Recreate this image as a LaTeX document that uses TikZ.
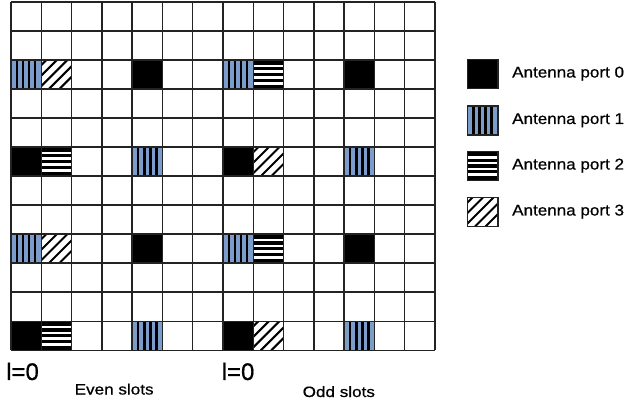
\documentclass[tikz,border=0pt]{standalone}
\usepackage{fontspec}
\usepackage{graphicx}
\setmainfont{Liberation Sans}[FakeBold=0.6]
\newfontfamily\heavyfont{Liberation Sans}[FakeBold=1.2]
\definecolor{portblue}{RGB}{124,156,204}
\definecolor{gridgrey}{RGB}{35,35,35}
\def\cw{30.2857}
\def\ch{29.025}
\tikzset{
  gridline/.style={draw=gridgrey, line width=1.5pt},
  legendbox/.style={draw=gridgrey, line width=1.5pt},
  portzero/.pic={\fill[black] (0,0) rectangle (\cw,\ch);},
  portone/.pic={
    \fill[portblue] (0,0) rectangle (\cw,\ch);
    \foreach \i in {1,...,4} \fill[black] ({\i*\cw/5-1.25},0) rectangle ({\i*\cw/5+1.25},\ch);
  },
  porttwo/.pic={
    \fill[black] (0,0) rectangle (\cw,\ch);
    \foreach \i in {1,...,4} \fill[white] (0,{\i*\ch/5-1.3}) rectangle (\cw,{\i*\ch/5+1.3});
  },
  portthree/.pic={
    \fill[white] (0,0) rectangle (\cw,\ch);
    \begin{scope}
      \clip (0,0) rectangle (\cw,\ch);
      \foreach \a in {-24,-13.5,-3,7.5,18} \draw[black, line width=2pt] (\a,\ch) -- ({\a+\ch},0);
    \end{scope}
  },
  legendtext/.style={anchor=base west, inner sep=0pt, font=\fontsize{15.5}{18}\selectfont},
  slottext/.style={anchor=base west, inner sep=0pt, font=\fontsize{15}{18}\selectfont},
  indextext/.style={anchor=base west, inner sep=0pt, font=\fontsize{24}{28}\selectfont}
}
\begin{document}
\begin{tikzpicture}[x=1pt,y=-1pt]
\useasboundingbox (0,0) rectangle (624,403);
% pattern cells
\foreach \r in {2,8} {
  \pic at ({11+0*\cw},{2+\r*\ch}) {portone};
  \pic at ({11+1*\cw},{2+\r*\ch}) {portthree};
  \pic at ({11+4*\cw},{2+\r*\ch}) {portzero};
  \pic at ({11+7*\cw},{2+\r*\ch}) {portone};
  \pic at ({11+8*\cw},{2+\r*\ch}) {porttwo};
  \pic at ({11+11*\cw},{2+\r*\ch}) {portzero};
}
\foreach \r in {5,11} {
  \pic at ({11+0*\cw},{2+\r*\ch}) {portzero};
  \pic at ({11+1*\cw},{2+\r*\ch}) {porttwo};
  \pic at ({11+4*\cw},{2+\r*\ch}) {portone};
  \pic at ({11+7*\cw},{2+\r*\ch}) {portzero};
  \pic at ({11+8*\cw},{2+\r*\ch}) {portthree};
  \pic at ({11+11*\cw},{2+\r*\ch}) {portone};
}
% grid
\foreach \i in {0,...,14} \draw[gridline] ({11+\i*\cw},2) -- ({11+\i*\cw},{2+12*\ch});
\foreach \j in {0,...,12} \draw[gridline] (11,{2+\j*\ch}) -- ({11+14*\cw},{2+\j*\ch});
% legend
\pic at (467.5,59.5) {portzero};
\pic at (467.5,106) {portone};
\pic at (467.5,151.5) {porttwo};
\pic at (467.5,197.5) {portthree};
\draw[legendbox] (467.5,59.5) rectangle ++(\cw,\ch);
\draw[legendbox] (467.5,106) rectangle ++(\cw,\ch);
\draw[legendbox] (467.5,151.5) rectangle ++(\cw,\ch);
\draw[legendbox] (467.5,197.5) rectangle ++(\cw,\ch);
\node[legendtext] (lg0) at (512,77.5) {\scalebox{1.1}[1]{Antenna port 0}};
\node[legendtext] (lg1) at (512,124) {\scalebox{1.1}[1]{Antenna port 1}};
\node[legendtext] (lg2) at (512,169.5) {\scalebox{1.1}[1]{Antenna port 2}};
\node[legendtext] (lg3) at (512,215.5) {\scalebox{1.1}[1]{Antenna port 3}};
% labels
\node[indextext] (l0a) at (6,380) {l=0};
\node[indextext] (l0b) at (221.5,380) {l=0};
\node[slottext] (even) at (74.5,394.5) {\scalebox{1.14}[1]{Even slots}};
\node[slottext] (odd) at (302.5,397) {\scalebox{1.14}[1]{Odd slots}};
\end{tikzpicture}
\end{document}
